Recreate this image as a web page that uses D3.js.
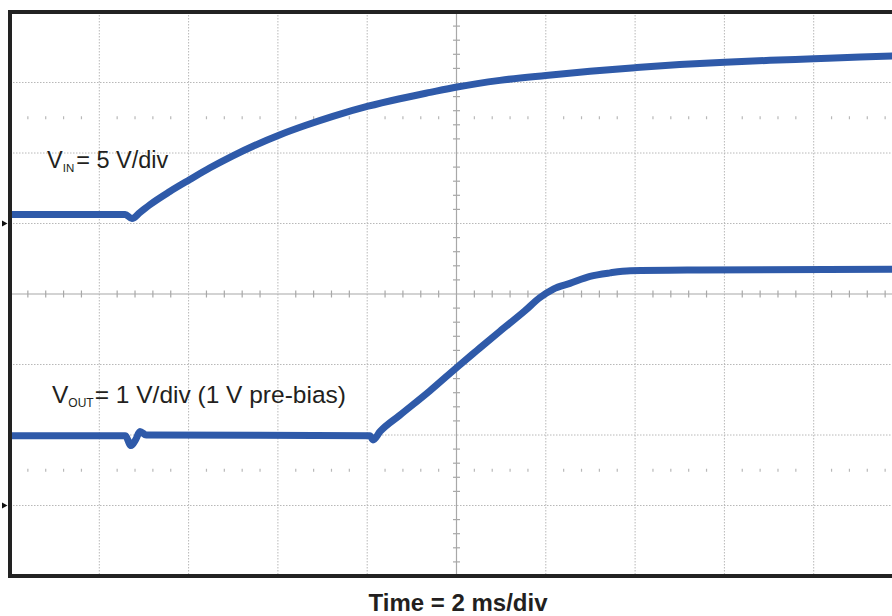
<!DOCTYPE html>
<html>
<head>
<meta charset="utf-8">
<script src="https://cdn.jsdelivr.net/npm/d3@7"></script>
<style>
  body { margin: 0; background: #fff; }
  svg { display: block; font-family: "Liberation Sans", Arial, sans-serif; }
</style>
</head>
<body>
<div id="chart"></div>
<script>
// scope capture: 2 ms/div, 10 x 8 divisions
const timeDivs = 10;
const msPerDiv = 2;
const voltDivs = 8;

// VIN channel, 5 V/div, ground marker 1 div above centre
const vinOffsetDiv = 1;
const vinVoltsPerDiv = 5;
const vinTime = [0, 2.58, 2.73, 2.91, 3.14, 3.58, 4.03, 4.48, 4.99, 5.49, 6.05, 6.61, 7.23,
  8.02, 8.73, 9.41, 10.01, 10.97, 12.0, 12.99, 14.0, 15.0, 16.01, 17.02, 18.0, 19.04, 20];
const vinVolts = [0.64, 0.64, 0.35, 0.78, 1.35, 2.27, 3.12, 3.95, 4.8, 5.55, 6.3, 6.95, 7.6,
  8.32, 8.85, 9.3, 9.68, 10.15, 10.5, 10.8, 11.05, 11.27, 11.44, 11.57, 11.68, 11.8, 11.9];

// VOUT channel, 1 V/div, ground marker 3 div below centre
const voutOffsetDiv = -3;
const voutVoltsPerDiv = 1;
const voutTime = [0, 2.58, 2.71, 2.82, 2.91, 3.05, 8.06, 8.13, 8.29, 8.73, 9.41, 10.01, 10.46,
  10.97, 11.53, 11.87, 12.17, 12.54, 12.99, 13.44, 13.89, 15.45, 20];
const voutVolts = [0.99, 0.99, 0.85, 0.94, 1.05, 1.0, 0.99, 0.93, 1.05, 1.28, 1.63, 1.96, 2.2,
  2.47, 2.76, 2.95, 3.07, 3.15, 3.25, 3.30, 3.33, 3.34, 3.35];

const width = 892, height = 616;
const plot = { left: 10, right: 903, top: 12, bottom: 576 };
const traceColor = "#2f5aa9";

const x = d3.scaleLinear().domain([0, timeDivs * msPerDiv]).range([plot.left, plot.right]);
const y = d3.scaleLinear().domain([-voltDivs / 2, voltDivs / 2]).range([plot.bottom, plot.top]);

const svg = d3.select("#chart").append("svg")
  .attr("width", width)
  .attr("height", height);

const grid = svg.append("g");

// dotted division lines
grid.selectAll(".vgrid")
  .data(d3.range(1, timeDivs).filter(d => d !== timeDivs / 2))
  .enter().append("line")
  .attr("x1", d => x(d * msPerDiv)).attr("x2", d => x(d * msPerDiv))
  .attr("y1", plot.top).attr("y2", plot.bottom)
  .attr("stroke", "#b8b8b8").attr("stroke-width", 1)
  .attr("stroke-dasharray", "1.5,1.5");

grid.selectAll(".hgrid")
  .data(d3.range(-voltDivs / 2 + 1, voltDivs / 2).filter(d => d !== 0))
  .enter().append("line")
  .attr("x1", plot.left).attr("x2", plot.right)
  .attr("y1", d => y(d)).attr("y2", d => y(d))
  .attr("stroke", "#b8b8b8").attr("stroke-width", 1)
  .attr("stroke-dasharray", "1.5,1.5");

// centre cross with minor ticks
grid.append("line")
  .attr("x1", plot.left).attr("x2", plot.right)
  .attr("y1", y(0)).attr("y2", y(0))
  .attr("stroke", "#a8a8a8").attr("stroke-width", 1.2);
grid.append("line")
  .attr("x1", x(timeDivs * msPerDiv / 2)).attr("x2", x(timeDivs * msPerDiv / 2))
  .attr("y1", plot.top).attr("y2", plot.bottom)
  .attr("stroke", "#a8a8a8").attr("stroke-width", 1.2);

const minorX = d3.range(1, timeDivs * 5).filter(d => d % 5 !== 0).map(d => d * msPerDiv / 5);
const minorY = d3.range(-voltDivs / 2 * 5 + 1, voltDivs / 2 * 5).filter(d => d % 5 !== 0).map(d => d / 5);

grid.selectAll(".xtick")
  .data(minorX)
  .enter().append("line")
  .attr("x1", d => x(d)).attr("x2", d => x(d))
  .attr("y1", y(0) - 3.5).attr("y2", y(0) + 3.5)
  .attr("stroke", "#a8a8a8").attr("stroke-width", 1.2);

grid.selectAll(".ytick")
  .data(minorY)
  .enter().append("line")
  .attr("x1", x(timeDivs * msPerDiv / 2) - 3.5).attr("x2", x(timeDivs * msPerDiv / 2) + 3.5)
  .attr("y1", d => y(d)).attr("y2", d => y(d))
  .attr("stroke", "#a8a8a8").attr("stroke-width", 1.2);

// rise-time marker rows at +/- 2.5 div
[2.5, -2.5].forEach(level => {
  grid.selectAll(null)
    .data(minorX)
    .enter().append("line")
    .attr("x1", d => x(d)).attr("x2", d => x(d))
    .attr("y1", y(level) - 1.5).attr("y2", y(level) + 1.5)
    .attr("stroke", "#b8b8b8").attr("stroke-width", 1.2);
});

// traces
const line = d3.line()
  .x(d => x(d.t))
  .y(d => y(d.div))
  .curve(d3.curveMonotoneX);

const vinData = vinTime.map((t, i) => ({ t: t, div: vinVolts[i] / vinVoltsPerDiv + vinOffsetDiv }));
const voutData = voutTime.map((t, i) => ({ t: t, div: voutVolts[i] / voutVoltsPerDiv + voutOffsetDiv }));

svg.append("clipPath").attr("id", "plotclip")
  .append("rect")
  .attr("x", plot.left).attr("y", plot.top)
  .attr("width", plot.right - plot.left).attr("height", plot.bottom - plot.top);

const traces = svg.append("g").attr("clip-path", "url(#plotclip)");
[vinData, voutData].forEach(data => {
  traces.append("path")
    .datum(data)
    .attr("d", line)
    .attr("fill", "none")
    .attr("stroke", traceColor)
    .attr("stroke-width", 7)
    .attr("stroke-linejoin", "round");
});

// frame (right edge runs off the picture)
svg.append("path")
  .attr("d", `M${plot.right},${plot.top}H${plot.left}V${plot.bottom}H${plot.right}`)
  .attr("fill", "none")
  .attr("stroke", "#222")
  .attr("stroke-width", 4);

// channel ground markers
[vinOffsetDiv, voutOffsetDiv].forEach(off => {
  const gy = y(off);
  svg.append("path")
    .attr("d", `M2,${gy - 3}L7.5,${gy}L2,${gy + 3}Z`)
    .attr("fill", "#111");
});

// labels
const vinLabel = svg.append("text")
  .attr("x", 47).attr("y", 168)
  .attr("font-size", 23.5).attr("fill", "#231f20");
vinLabel.append("tspan").text("V");
vinLabel.append("tspan").attr("font-size", 11.5).attr("dy", 4).text("IN");
vinLabel.append("tspan").attr("dy", -4).attr("dx", 2).text("= 5 V/div");

const voutLabel = svg.append("text")
  .attr("x", 52).attr("y", 403)
  .attr("font-size", 24.5).attr("fill", "#231f20");
voutLabel.append("tspan").text("V");
voutLabel.append("tspan").attr("font-size", 12).attr("dy", 4).text("OUT");
voutLabel.append("tspan").attr("dy", -4).attr("dx", 1).text("= 1 V/div (1 V pre-bias)");

svg.append("text")
  .attr("x", 458).attr("y", 611)
  .attr("text-anchor", "middle")
  .attr("font-size", 24)
  .attr("font-weight", "bold")
  .attr("fill", "#231f20")
  .text("Time = 2 ms/div");
</script>
</body>
</html>
